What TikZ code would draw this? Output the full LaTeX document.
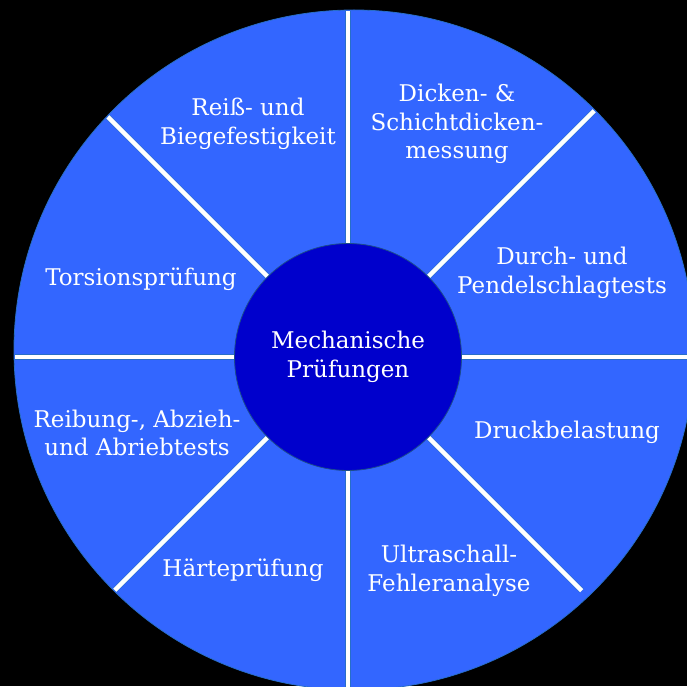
\documentclass[tikz,border=0pt]{standalone}
\usepackage{fontspec}
\setmainfont{DejaVu Serif}
\usepackage{tikz}
\usepackage{xcolor}
\definecolor{wheelblue}{RGB}{51,102,255}
\definecolor{hubblue}{RGB}{0,0,204}
\definecolor{rimblue}{RGB}{40,110,200}

\begin{document}
\begin{tikzpicture}[x=1pt,y=1pt]
  \tikzset{wheel/.style = {shape=circle,fill=wheelblue,draw=rimblue,line width=0.8pt,minimum size=680pt,inner sep=0pt}}
  \tikzset{hub/.style = {shape=circle,fill=hubblue,draw=rimblue!70!black,line width=0.8pt,minimum size=227pt,inner sep=1pt,text=white,align=center,font=\fontsize{23}{28.5}\selectfont}}
  \tikzset{seglabel/.style = {text=white,align=center,font=\fontsize{23}{28.5}\selectfont}}
  \tikzset{spoke/.style = {draw=rimblue,line width=0.6pt,double=white,double distance=4.4pt}}

	\fill[black] (0,0) rectangle (687,686);
	\useasboundingbox (0,0) rectangle (687,686);

	\node[wheel] (W) at (354,336) {};

	% spokes, cut at the rim
	\begin{scope}
	\clip (W.center) circle[radius=339pt];
	\foreach \a/\l in {0/250,45/250,90/250,135/250,180/250,225/250,270/250,315/217}
	\draw[spoke] (348,329) ++(\a:113.5pt) -- ++(\a:\l pt);
	\end{scope}

	\node[hub] (H) at (348,329) {Mechanische\\Prüfungen};

	\node[seglabel] (reiss) at (248,562) {Reiß- und\\Biegefestigkeit};
	\node[seglabel] (dicken) at (457,562) {Dicken- \&\\Schichtdicken-\\messung};
	\node[seglabel] (durch) at (562,413) {Durch- und\\Pendelschlagtests};
	\node[seglabel] (torsion) at (141,407) {Torsionsprüfung};
	\node[seglabel] (reibung) at (137,253) {Reibung-, Abzieh-\\und Abriebtests};
	\node[seglabel] (druck) at (567,254) {Druckbelastung};
	\node[seglabel] (haerte) at (243,116) {Härteprüfung};
	\node[seglabel] (ultra) at (449,115) {Ultraschall-\\Fehleranalyse};

\end{tikzpicture}
\end{document}
